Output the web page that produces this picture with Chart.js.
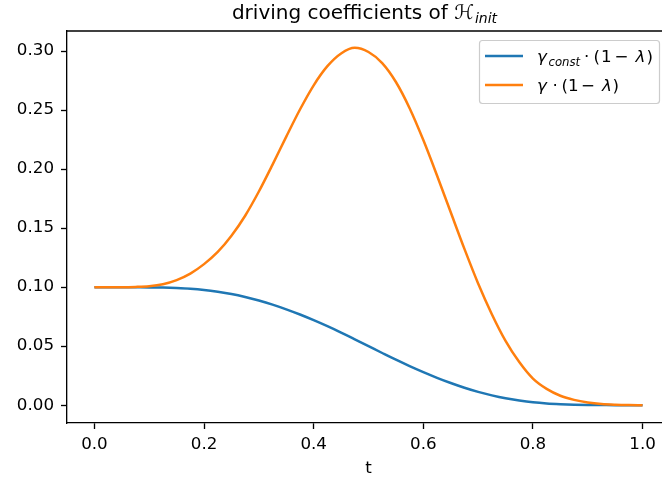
<!DOCTYPE html>
<html>
<head>
<meta charset="utf-8">
<script src="https://cdn.jsdelivr.net/npm/chart.js@4"></script>
<style>
  html, body { margin: 0; padding: 0; background: #fff; overflow: hidden; }
  #wrap { position: relative; width: 662px; height: 482px; overflow: hidden; background: #fff; }
  canvas { display: block; }
</style>
</head>
<body>
<div id="wrap"><canvas id="myChart" width="700" height="482"></canvas></div>
<script>
// values
const tValues = [0, 0.025, 0.05, 0.075, 0.1, 0.125, 0.15, 0.175, 0.2, 0.225, 0.25,
  0.275, 0.3, 0.325, 0.35, 0.375, 0.4, 0.425, 0.45, 0.475, 0.5, 0.525, 0.55, 0.575,
  0.6, 0.625, 0.65, 0.675, 0.7, 0.725, 0.75, 0.775, 0.8, 0.825, 0.85, 0.875, 0.9,
  0.925, 0.95, 0.975, 1.0];
const gammaConstValues = [0.1000, 0.1000, 0.1000, 0.0999, 0.0998, 0.0996, 0.0992,
  0.0986, 0.0976, 0.0961, 0.0942, 0.0917, 0.0887, 0.0852, 0.0812, 0.0768, 0.0720,
  0.0669, 0.0615, 0.0558, 0.0500, 0.0442, 0.0385, 0.0331, 0.0280, 0.0232, 0.0188,
  0.0148, 0.0113, 0.0083, 0.0058, 0.0039, 0.0024, 0.0014, 0.0008, 0.0004, 0.0002,
  0.0001, 0.0000, 0.0000, 0.0000];
const gammaValues = [0.1000, 0.1000, 0.1000, 0.1002, 0.1008, 0.1025, 0.1060, 0.1115,
  0.1195, 0.1298, 0.1435, 0.1605, 0.1810, 0.2038, 0.2275, 0.2505, 0.2710, 0.2872,
  0.2980, 0.3028, 0.2992, 0.2898, 0.2738, 0.2516, 0.2246, 0.1946, 0.1634, 0.1324,
  0.1031, 0.0771, 0.0545, 0.0365, 0.0225, 0.0138, 0.0080, 0.0045, 0.0023, 0.0010,
  0.0004, 0.0001, 0.0000];
const xTicks = [0, 0.2, 0.4, 0.6, 0.8, 1.0];
const yTicks = [0, 0.05, 0.10, 0.15, 0.20, 0.25, 0.30];

const FONT = "'DejaVu Sans', sans-serif";
const BLUE = "#1f77b4";
const ORANGE = "#ff7f0e";

const toPoints = (ys) => tValues.map((t, i) => ({x: t, y: ys[i]}));

// draws text pieces so that each glyph's ink starts at the given x: [x, text, font, dy]
function drawPieces(ctx, pieces, baseline) {
  pieces.forEach(([x, text, font, dy]) => {
    ctx.font = font;
    const m = ctx.measureText(text);
    ctx.fillText(text, x + m.actualBoundingBoxLeft, baseline + (dy || 0));
  });
}

const extras = {
  id: "extras",
  afterDraw(chart) {
    const ctx = chart.ctx;
    const area = chart.chartArea;
    ctx.save();

    // top spine (the right one lies outside the picture)
    ctx.strokeStyle = "#000";
    ctx.lineWidth = 1.33;
    ctx.beginPath();
    ctx.moveTo(area.left, area.top);
    ctx.lineTo(area.right, area.top);
    ctx.stroke();

    // title
    ctx.fillStyle = "#000";
    ctx.textBaseline = "alphabetic";
    ctx.textAlign = "left";
    const main = "driving coefficients of ";
    ctx.font = "20px " + FONT;
    const w1 = ctx.measureText(main).width;
    const w2 = ctx.measureText("\u210B").width;
    ctx.font = "italic 14px " + FONT;
    const w3 = ctx.measureText("init").width;
    const x0 = 364 - (w1 + w2 + w3) / 2;
    ctx.font = "20px " + FONT;
    ctx.fillText(main, x0, 18.5);
    ctx.fillText("\u210B", x0 + w1, 18.5);
    ctx.font = "italic 14px " + FONT;
    ctx.fillText("init", x0 + w1 + w2 + 1, 22.5);

    // legend
    ctx.beginPath();
    ctx.roundRect(479.5, 40.5, 180, 63, 3);
    ctx.fillStyle = "rgba(255,255,255,0.8)";
    ctx.fill();
    ctx.strokeStyle = "#cccccc";
    ctx.lineWidth = 1.2;
    ctx.stroke();

    ctx.lineWidth = 2.5;
    ctx.strokeStyle = BLUE;
    ctx.beginPath();
    ctx.moveTo(485, 56);
    ctx.lineTo(523, 56);
    ctx.stroke();
    ctx.strokeStyle = ORANGE;
    ctx.beginPath();
    ctx.moveTo(485, 85);
    ctx.lineTo(523, 85);
    ctx.stroke();

    ctx.fillStyle = "#000";
    const reg = "16.7px " + FONT;
    const ital = "italic 16.7px " + FONT;
    const sub = "italic 11.7px " + FONT;
    drawPieces(ctx, [
      [538, "\u03B3", ital],
      [548.5, "const", sub, 3.5],
      [585, "\u00B7", reg],
      [594.5, "(", reg],
      [602, "1", reg],
      [615.5, "\u2212", reg],
      [634.5, "\u03BB", ital],
      [647.5, ")", reg]
    ], 62);
    drawPieces(ctx, [
      [538, "\u03B3", ital],
      [553.5, "\u00B7", reg],
      [562.5, "(", reg],
      [569, "1", reg],
      [582, "\u2212", reg],
      [601, "\u03BB", ital],
      [613.5, ")", reg]
    ], 91);

    ctx.restore();
  }
};

const ctx = document.getElementById("myChart").getContext("2d");

new Chart(ctx, {
  type: "line",
  data: {
    datasets: [{
      label: "gamma_const * (1 - lambda)",
      data: toPoints(gammaConstValues),
      borderColor: BLUE,
      borderWidth: 2.5,
      pointRadius: 0,
      fill: false,
      cubicInterpolationMode: "monotone",
      order: 2
    }, {
      label: "gamma * (1 - lambda)",
      data: toPoints(gammaValues),
      borderColor: ORANGE,
      borderWidth: 2.5,
      pointRadius: 0,
      fill: false,
      cubicInterpolationMode: "monotone",
      order: 1
    }]
  },
  options: {
    responsive: false,
    animation: false,
    // the axes box runs past the right edge of the picture
    layout: {padding: {left: 0, top: 31, right: 30, bottom: 0}},
    plugins: {
      legend: {display: false},
      title: {display: false},
      tooltip: {enabled: false}
    },
    scales: {
      x: {
        type: "linear",
        min: -0.05,
        max: 1.05,
        afterBuildTicks: (scale) => { scale.ticks = xTicks.map(v => ({value: v})); },
        afterFit: (scale) => { scale.height = 59; },
        grid: {drawOnChartArea: false, drawTicks: true, tickLength: 6, tickColor: "#000", tickWidth: 1.33},
        border: {display: true, color: "#000", width: 1.33},
        ticks: {
          color: "#000",
          padding: 6,
          maxRotation: 0,
          font: {family: FONT, size: 16.7},
          callback: (v) => Number(v).toFixed(1)
        },
        title: {
          display: true,
          text: "t",
          color: "#000",
          font: {family: FONT, size: 16.7},
          padding: {top: 0, bottom: 3}
        }
      },
      y: {
        type: "linear",
        min: -0.0151,
        max: 0.317,
        afterBuildTicks: (scale) => { scale.ticks = yTicks.map(v => ({value: v})); },
        afterFit: (scale) => { scale.width = 67; },
        grid: {drawOnChartArea: false, drawTicks: true, tickLength: 6, tickColor: "#000", tickWidth: 1.33},
        border: {display: true, color: "#000", width: 1.33},
        ticks: {
          color: "#000",
          padding: 7,
          font: {family: FONT, size: 16.7},
          callback: (v) => Number(v).toFixed(2)
        }
      }
    }
  },
  plugins: [extras]
});
</script>
</body>
</html>
